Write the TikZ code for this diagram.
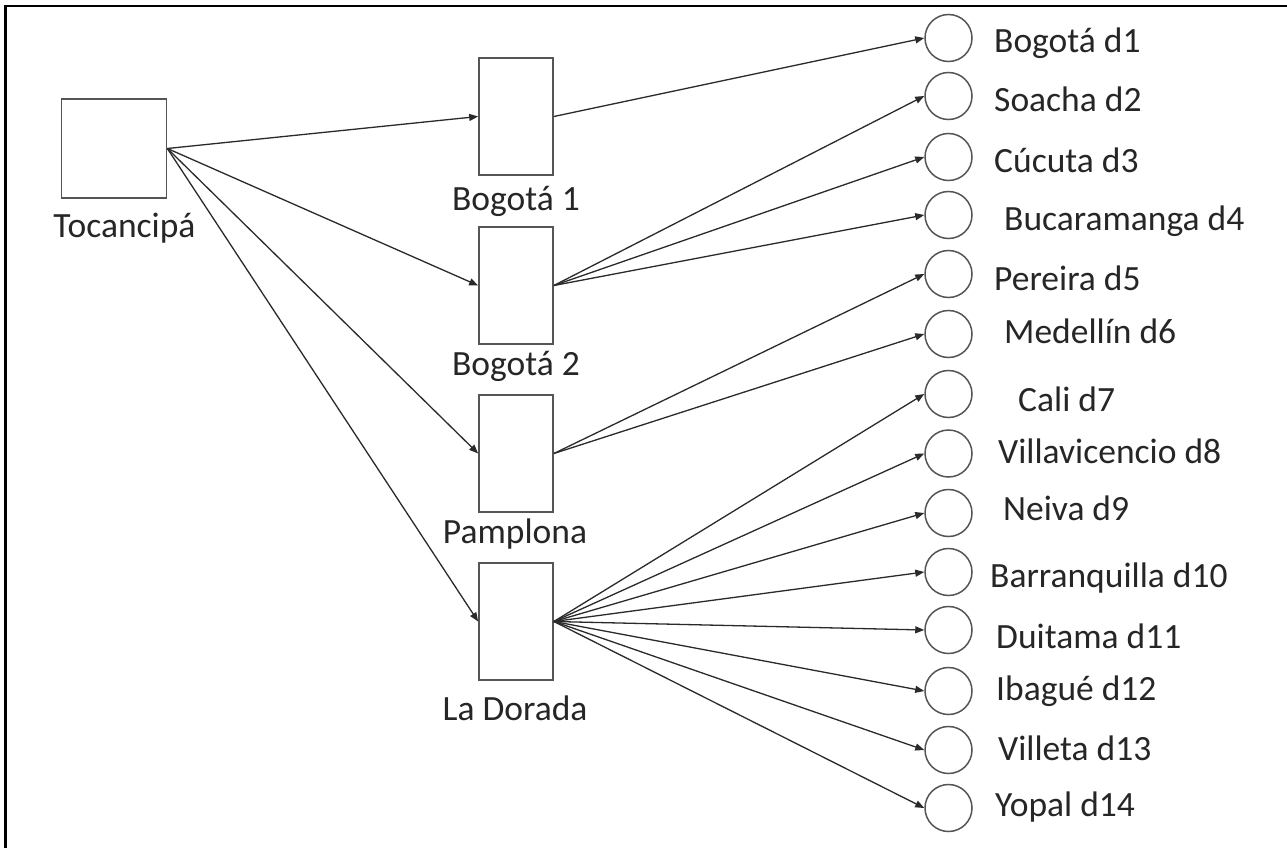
\documentclass[tikz,border=0pt]{standalone}
\usepackage{fontspec}
\setmainfont{Carlito}
\usetikzlibrary{arrows.meta}
\definecolor{boxgray}{HTML}{555555}
\definecolor{linegray}{HTML}{2A2A2A}
\begin{document}
\begin{tikzpicture}[x=1pt,y=-1pt,
  font=\fontsize{35.5}{41}\selectfont,
  boxnode/.style={draw=boxgray,line width=1.7pt,fill=white,inner sep=0pt},
  pnode/.style={boxnode,minimum width=74pt,minimum height=117pt},
  dnode/.style={circle,draw=boxgray,line width=1.5pt,inner sep=0pt,minimum size=47pt},
  lbl/.style={inner sep=0pt,anchor=base,text=black!85},
  dlbl/.style={inner sep=0pt,anchor=base west,text=black!85},
  flow/.style={draw=linegray,line width=1.3pt,-{Triangle[length=9pt,width=7pt]}}
]
\useasboundingbox (0,0) rectangle (1287,848);
\fill[white] (0,0) rectangle (1287,848);
% frame (top and left only)
\draw[line width=2.5pt] (5.3,848) -- (5.3,6) -- (1287,6);

% source
\node[boxnode,minimum width=105pt,minimum height=99pt] (toc) at (114,148.5) {};
\node[lbl] (toclbl) at (124.5,237) {Tocancipá};

% plants
\node[pnode] (b1) at (516,116.5) {};
\node[pnode] (b2) at (516,285.5) {};
\node[pnode] (pa) at (516,453.5) {};
\node[pnode] (ld) at (516,621.5) {};
\node[lbl] (b1lbl) at (516,210) {Bogotá 1};
\node[lbl] (b2lbl) at (516,375) {Bogotá 2};
\node[lbl] (palbl) at (515,543) {Pamplona};
\node[lbl] (ldlbl) at (515,720) {La Dorada};

% destinations
\foreach \i/\y in {1/38,2/96,3/157,4/215,5/274,6/334,7/394,8/453.5,9/513,10/572,11/630,12/691,13/750,14/808}
  \node[dnode] (d\i) at (948.5,\y) {};

\node[dlbl] (l1)  at (994,53)   {Bogotá d1};
\node[dlbl] (l2)  at (994,112)  {Soacha d2};
\node[dlbl] (l3)  at (994,172)  {Cúcuta d3};
\node[dlbl] (l4)  at (1004,230) {Bucaramanga d4};
\node[dlbl] (l5)  at (994,290)  {Pereira d5};
\node[dlbl] (l6)  at (1004,343) {Medellín d6};
\node[dlbl] (l7)  at (1018,411) {Cali d7};
\node[dlbl] (l8)  at (998,463)  {Villavicencio d8};
\node[dlbl] (l9)  at (1003,520) {Neiva d9};
\node[dlbl] (l10) at (990,587)  {Barranquilla d10};
\node[dlbl] (l11) at (996,648)  {Duitama d11};
\node[dlbl] (l12) at (996,700)  {Ibagué d12};
\node[dlbl] (l13) at (998,760)  {Villeta d13};
\node[dlbl] (l14) at (995,816)  {Yopal d14};

% connectors
\foreach \t in {b1,b2,pa,ld}
  \draw[flow] (toc.east) -- (\t.west);
\draw[flow] (b1.east) -- (d1.west);
\foreach \i in {2,3,4}
  \draw[flow] (b2.east) -- (d\i.west);
\foreach \i in {5,6}
  \draw[flow] (pa.east) -- (d\i.west);
\foreach \i in {7,...,14}
  \draw[flow] (ld.east) -- (d\i.west);
\end{tikzpicture}
\end{document}
